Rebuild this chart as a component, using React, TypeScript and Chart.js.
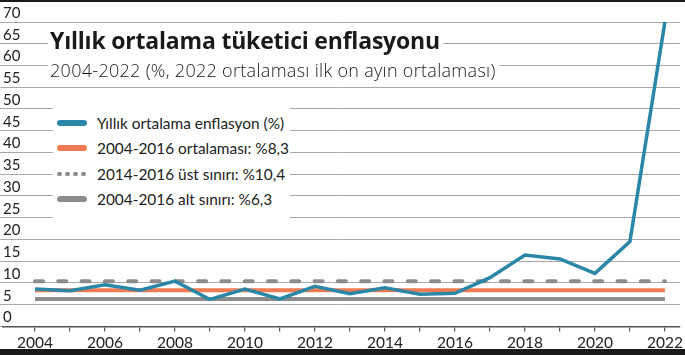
import { useEffect, useRef } from "react";
import { Chart, registerables } from "chart.js";

Chart.register(...registerables);

const years = [2004, 2005, 2006, 2007, 2008, 2009, 2010, 2011, 2012, 2013, 2014, 2015, 2016, 2017, 2018, 2019, 2020, 2021, 2022];
const inflation = [8.6, 8.2, 9.6, 8.3, 10.4, 6.2, 8.6, 6.3, 9.2, 7.5, 8.9, 7.4, 7.6, 11.2, 16.4, 15.5, 12.2, 19.5, 70.0];
const avg2004_2016 = 8.3;
const upper2014_2016 = 10.4;
const lower2004_2016 = 6.3;
const yTicks = [0, 5, 10, 15, 20, 25, 30, 35, 40, 45, 50, 55, 60, 65, 70];
const xLabels = [2004, 2006, 2008, 2010, 2012, 2014, 2016, 2018, 2020, 2022];

const title = "Yıllık ortalama tüketici enflasyonu";
const subtitle = "2004-2022 (%, 2022 ortalaması ilk on ayın ortalaması)";
const legendItems = [
  { label: "Yıllık ortalama enflasyon (%)", color: "#2b87a7", kind: "solid" },
  { label: "2004-2016 ortalaması: %8,3", color: "#f07b52", kind: "solid" },
  { label: "2014-2016 üst sınırı: %10,4", color: "#8c8c8c", kind: "dots" },
  { label: "2004-2016 alt sınırı: %6,3", color: "#8c8c8c", kind: "solid" },
];

const TEAL = "#2b87a7";
const ORANGE = "#f07b52";
const GRAY = "#8c8c8c";
const FONT = "Lato, 'Noto Sans', sans-serif";
const TITLE_FONT = "'Open Sans', 'Noto Sans', sans-serif";

const X_MIN = 2004 - 32 / 35;
const X_MAX = 2022 + 15 / 35;

function flat(v: number) {
  return [
    { x: years[0], y: v },
    { x: years[years.length - 1], y: v },
  ];
}

export default function App() {
  const ref = useRef<HTMLCanvasElement | null>(null);

  useEffect(() => {
    if (!ref.current) return;
    const chart = new Chart(ref.current, {
      type: "line",
      data: {
        datasets: [
          {
            data: years.map((y, i) => ({ x: y, y: inflation[i] })),
            borderColor: TEAL,
            borderWidth: 3.5,
            pointRadius: 0,
            tension: 0,
            borderJoinStyle: "miter",
            clip: false as any,
          },
          {
            data: flat(upper2014_2016),
            borderColor: GRAY,
            borderWidth: 4,
            borderDash: [8, 15.3],
            borderCapStyle: "round",
            pointRadius: 0,
          },
          {
            data: flat(avg2004_2016),
            borderColor: ORANGE,
            borderWidth: 4,
            pointRadius: 0,
          },
          {
            data: flat(lower2004_2016),
            borderColor: GRAY,
            borderWidth: 4,
            pointRadius: 0,
          },
        ],
      },
      options: {
        responsive: false,
        animation: false,
        layout: { padding: { top: 22, right: 5, bottom: 1, left: 0 } },
        plugins: { legend: { display: false }, tooltip: { enabled: false } },
        scales: {
          x: {
            type: "linear",
            min: X_MIN,
            max: X_MAX,
            afterBuildTicks: (ax: any) => {
              ax.ticks = years.map((v) => ({ value: v }));
            },
            grid: { drawOnChartArea: false, drawTicks: true, tickLength: 5, color: "#555", lineWidth: 1.2 },
            border: { display: true, color: "#555", width: 1.5 },
            ticks: {
              autoSkip: false,
              maxRotation: 0,
              padding: 2,
              color: "#222",
              font: { family: FONT, size: 15.5 },
              callback: (v: any) => (xLabels.includes(Number(v)) ? String(v) : ""),
            },
          },
          y: {
            type: "linear",
            min: 0,
            max: 70,
            afterBuildTicks: (ax: any) => {
              ax.ticks = yTicks.map((v) => ({ value: v }));
            },
            grid: { color: "#a8a8a8", lineWidth: 1, drawTicks: true, tickLength: 3 },
            border: { display: false },
            ticks: {
              mirror: true,
              padding: 0,
              labelOffset: -9,
              color: "#222",
              font: { family: FONT, size: 15 },
            },
          },
        },
      },
    });
    return () => chart.destroy();
  }, []);

  return (
    <div style={{ position: "fixed", left: 0, top: 0, width: 685, height: 355, background: "#fff", overflow: "hidden" }}>
      <canvas ref={ref} width={685} height={355} style={{ position: "absolute", left: 0, top: 0 }} />
      <div style={{ position: "absolute", left: 0, top: 0, width: 685, height: 2, background: "#1a1a1a" }} />
      <div style={{ position: "absolute", left: 0, top: 349, width: 685, height: 6, background: "#1a1a1a" }} />
      <div
        style={{
          position: "absolute",
          left: 48,
          top: 27,
          padding: "0 3px 0 2px",
          background: "#fff",
          fontFamily: TITLE_FONT,
          fontWeight: 700,
          fontSize: 23,
          lineHeight: "26px",
          letterSpacing: -0.2,
          color: "#1a1a1a",
          whiteSpace: "nowrap",
        }}
      >
        {title}
      </div>
      <div
        style={{
          position: "absolute",
          left: 48,
          top: 59,
          padding: "0 3px 0 2px",
          background: "#fff",
          fontFamily: TITLE_FONT,
          fontWeight: 300,
          fontSize: 18,
          lineHeight: "22px",
          letterSpacing: 0.3,
          color: "#1a1a1a",
          whiteSpace: "nowrap",
        }}
      >
        {subtitle}
      </div>
      <div style={{ position: "absolute", left: 53, top: 100, width: 237, height: 121, background: "#fff" }}>
        {legendItems.map((it, i) => (
          <div key={i} style={{ position: "absolute", left: 0, top: 23 - 11 + i * 25.4, height: 22, width: 237 }}>
            {it.kind === "solid" ? (
              <div style={{ position: "absolute", left: 4, top: 8, width: 30, height: 6, borderRadius: 3, background: it.color }} />
            ) : (
              <div style={{ position: "absolute", left: 4, top: 9, width: 30, height: 4 }}>
                {[0, 1, 2, 3].map((k) => (
                  <div key={k} style={{ position: "absolute", left: k * 8, top: 0, width: 5, height: 4, borderRadius: 2, background: it.color }} />
                ))}
              </div>
            )}
            <div
              style={{
                position: "absolute",
                left: 44,
                top: 0,
                fontFamily: FONT,
                fontSize: 15.4,
                lineHeight: "22px",
                color: "#222",
                whiteSpace: "nowrap",
              }}
            >
              {it.label}
            </div>
          </div>
        ))}
      </div>
    </div>
  );
}
